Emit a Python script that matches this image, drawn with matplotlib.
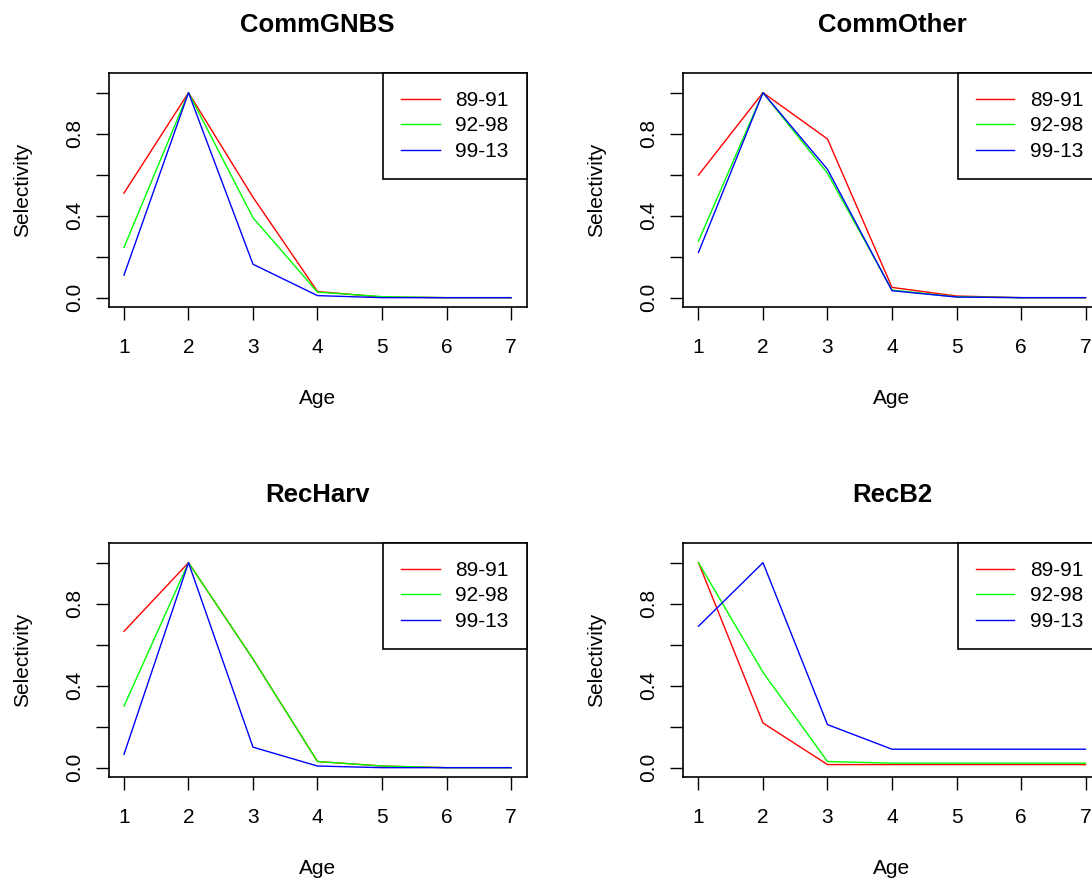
import matplotlib
matplotlib.use("Agg")
import matplotlib.pyplot as plt

plt.rcParams['font.family'] = ['Liberation Sans', 'DejaVu Sans']

# ---- data ----
ages = [1, 2, 3, 4, 5, 6, 7]
periods = ["89-91", "92-98", "99-13"]
colors = ["#FF0000", "#00FF00", "#0000FF"]
panel_titles = ["CommGNBS", "CommOther", "RecHarv", "RecB2"]

commgnbs_8991 = [0.51, 1.0, 0.49, 0.03, 0.003, 0.0, 0.0]
commgnbs_9298 = [0.245, 1.0, 0.39, 0.027, 0.005, 0.0, 0.0]
commgnbs_9913 = [0.11, 1.0, 0.163, 0.01, 0.0, 0.0, 0.0]

commother_8991 = [0.598, 1.0, 0.774, 0.05, 0.008, 0.0, 0.0]
commother_9298 = [0.276, 1.0, 0.607, 0.037, 0.004, 0.0, 0.0]
commother_9913 = [0.221, 1.0, 0.626, 0.034, 0.003, 0.0, 0.0]

recharv_8991 = [0.665, 1.0, 0.53, 0.03, 0.008, 0.0, 0.0]
recharv_9298 = [0.30, 1.0, 0.53, 0.03, 0.008, 0.0, 0.0]
recharv_9913 = [0.065, 1.0, 0.10, 0.008, 0.0, 0.0, 0.0]

recb2_8991 = [1.0, 0.218, 0.015, 0.015, 0.015, 0.015, 0.015]
recb2_9298 = [1.0, 0.465, 0.03, 0.022, 0.022, 0.022, 0.022]
recb2_9913 = [0.69, 1.0, 0.21, 0.09, 0.09, 0.09, 0.09]

panel_series = [
    [commgnbs_8991, commgnbs_9298, commgnbs_9913],
    [commother_8991, commother_9298, commother_9913],
    [recharv_8991, recharv_9298, recharv_9913],
    [recb2_8991, recb2_9298, recb2_9913],
]

yticks = [0.0, 0.2, 0.4, 0.6, 0.8, 1.0]
ytick_labels = ["0.0", "", "0.4", "", "0.8", ""]

# ---- layout (pixels) ----
W, H = 1092, 884
fig = plt.figure(figsize=(W / 100, H / 100), dpi=100)
fig.patch.set_facecolor("white")

ax_w, ax_h = 418.0, 234.3
lefts = [108.5, 683.0]
tops = [73.0, 543.0]

FS = 15
for i, title in enumerate(panel_titles):
    r, c = divmod(i, 2)
    left = lefts[c]
    top = tops[r]
    ax = fig.add_axes([left / W, (H - top - ax_h) / H, ax_w / W, ax_h / H])
    for s, col, lab in zip(panel_series[i], colors, periods):
        ax.plot(ages, s, color=col, lw=1.0, label=lab)
    ax.set_xlim(0.76, 7.24)
    ax.set_ylim(-0.047, 1.096)
    ax.set_xticks(ages)
    ax.set_xticklabels([str(a) for a in ages])
    ax.set_yticks(yticks)
    ax.set_yticklabels(ytick_labels)
    for sp in ax.spines.values():
        sp.set_linewidth(1.2)
        sp.set_color("black")
    ax.tick_params(axis="both", direction="out", length=9.4, width=1.0,
                   color="black", labelsize=FS, labelcolor="black")
    ax.tick_params(axis="x", pad=23.3)
    ax.tick_params(axis="y", pad=11.2)
    for t in ax.get_xticklabels():
        t.set_va("baseline")
    for t in ax.get_yticklabels():
        t.set_rotation(90)
        t.set_rotation_mode("anchor")
        t.set_ha("center")
        t.set_va("baseline")

    ax.set_title(title, fontsize=18.5, fontweight="bold", pad=29.3)
    ax.set_xlabel("Age", fontsize=FS)
    ax.xaxis.label.set_va("baseline")
    ax.xaxis.set_label_coords(0.5, (ax_h - (404 - 73)) / ax_h)
    ax.set_ylabel("Selectivity", fontsize=FS)
    ax.yaxis.label.set_va("baseline")
    ax.yaxis.set_label_coords((27.7 - 108.5) / ax_w, 0.5)

    leg = ax.legend(loc="upper right", borderaxespad=0, fancybox=False,
                    frameon=True, framealpha=1, edgecolor="black",
                    fontsize=FS, handlelength=1.85, handletextpad=0.75,
                    borderpad=0.86, labelspacing=0.31)
    leg.get_frame().set_linewidth(1.2)

fig.savefig("out.png", dpi=100)
